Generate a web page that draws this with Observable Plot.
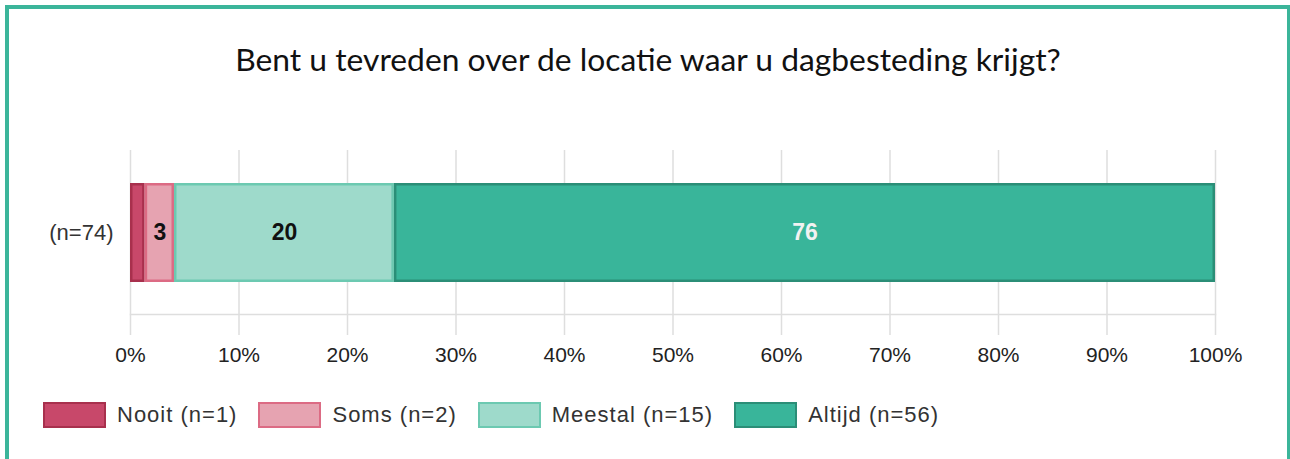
<!DOCTYPE html>
<html><head><meta charset="utf-8">
<script src="https://cdn.jsdelivr.net/npm/d3@7"></script>
<script src="https://cdn.jsdelivr.net/npm/@observablehq/plot@0.6"></script>
<style>
body{margin:0;width:1290px;height:459px;overflow:hidden;background:#fff;position:relative;font-family:"Liberation Sans",Arial,sans-serif}
#frame{position:absolute;left:5px;top:5px;width:1286px;height:480px;border:4px solid #3bb59a;box-sizing:border-box}
#title{position:absolute;left:0;width:1296px;top:40px;text-align:center;font-family:Lato,sans-serif;font-size:31.8px;color:#111;white-space:nowrap}
#chart{position:absolute;left:0;top:100px}
#legend{position:absolute;left:43px;top:402px;display:flex;align-items:center}
.item{display:flex;align-items:center;margin-right:21px;font-size:22px;letter-spacing:1px;color:#333;line-height:26px}
.sw{width:63px;height:26px;box-sizing:border-box;border:2px solid;margin-right:11px}
</style></head><body>
<div id="frame"></div>
<div id="title"></div>
<div id="chart"></div>
<div id="legend"></div>
<script>
const title = "Bent u tevreden over de locatie waar u dagbesteding krijgt?";
const groupLabel = "(n=74)";
const answers = ["Nooit", "Soms", "Meestal", "Altijd"];
const counts = [1, 2, 15, 56];
const xTicks = [0, 0.1, 0.2, 0.3, 0.4, 0.5, 0.6, 0.7, 0.8, 0.9, 1];

const fillColors = {Nooit: "#c8486a", Soms: "#e6a3b1", Meestal: "#9edacb", Altijd: "#39b59a"};
const strokeColors = {Nooit: "#a8304d", Soms: "#dc6b84", Meestal: "#6cc9b1", Altijd: "#2b8e77"};
const labelColors = {Nooit: "#111", Soms: "#111", Meestal: "#111", Altijd: "#f2f2f2"};

const total = d3.sum(counts);
const data = answers.map((a, i) => ({answer: a, group: groupLabel, count: counts[i], pct: counts[i] / total}));

document.getElementById("title").textContent = title;

const stackOpts = {x: "pct", y: "group", order: answers};

const chart = Plot.plot({
  width: 1290,
  height: 280,
  marginLeft: 130,
  marginRight: 75,
  marginTop: 50,
  marginBottom: 66,
  style: {fontFamily: '"Liberation Sans", Arial, sans-serif', background: "transparent"},
  x: {domain: [0, 1], label: null},
  y: {domain: [groupLabel], padding: 0.247, label: null},
  marks: [
    Plot.gridX(xTicks, {stroke: "#dedede", strokeOpacity: 1, strokeWidth: 1.5}),
    Plot.frame({anchor: "bottom", stroke: "#dedede", strokeWidth: 1.5}),
    Plot.axisX({ticks: xTicks, label: null, tickFormat: d3.format(".0%"), tickSize: 21, tickPadding: 12, stroke: "#dedede", strokeWidth: 1.5, fontSize: 21, fill: "#222", style: {letterSpacing: "0.6px"}}),
    Plot.axisY({label: null, tickSize: 0, tickPadding: 17, fontSize: 22, fill: "#333", style: {letterSpacing: "1.5px"}}),
    Plot.barX(data, Plot.stackX({
      ...stackOpts,
      fill: d => fillColors[d.answer],
      stroke: d => strokeColors[d.answer],
      strokeWidth: 2.5,
      insetLeft: 1.25, insetRight: 1.25, insetTop: 1.25, insetBottom: 1.25
    })),
    Plot.text(data, Plot.stackX({
      ...stackOpts,
      text: d => d.pct >= 0.02 ? String(Math.round(d.pct * 100)) : "",
      fill: d => labelColors[d.answer],
      fontSize: 23,
      fontWeight: "bold"
    }))
  ]
});
document.getElementById("chart").appendChild(chart);

const legend = document.getElementById("legend");
answers.forEach((a, i) => {
  const item = document.createElement("div");
  item.className = "item";
  const sw = document.createElement("div");
  sw.className = "sw";
  sw.style.background = fillColors[a];
  sw.style.borderColor = strokeColors[a];
  const t = document.createElement("span");
  t.textContent = `${a} (n=${counts[i]})`;
  item.appendChild(sw);
  item.appendChild(t);
  legend.appendChild(item);
});
</script>
</body></html>
